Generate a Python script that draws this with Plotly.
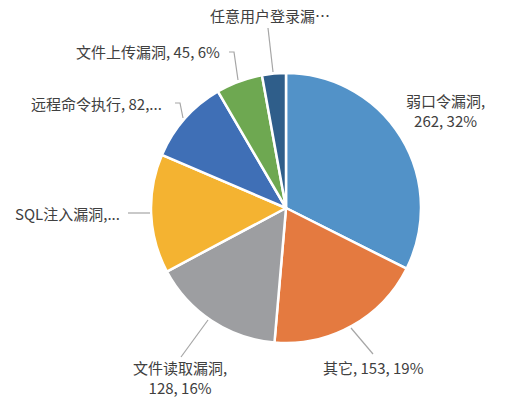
import plotly.graph_objects as go

categories = ["弱口令漏洞", "其它", "文件读取漏洞", "SQL注入漏洞", "远程命令执行", "文件上传漏洞", "任意用户登录漏洞"]
values = [262, 153, 128, 115, 82, 45, 23]
colors = ["#5292C8", "#E47A40", "#9D9EA1", "#F4B331", "#3F6FB6", "#6EA851", "#2F5E8A"]
label_texts = ["弱口令漏洞,<br>262, 32%", "其它, 153, 19%", "文件读取漏洞,<br>128, 16%",
               "SQL注入漏洞,...", "远程命令执行, 82,...", "文件上传漏洞, 45, 6%", "任意用户登录漏…"]

W, H = 512, 407
cx, cy, r = 286, 208, 135

def px(x):
    return x / W

def py(y):
    return 1 - y / H

fig = go.Figure(go.Pie(
    labels=categories,
    values=values,
    sort=False,
    direction="clockwise",
    rotation=0,
    marker=dict(colors=colors, line=dict(color="white", width=2.5)),
    textinfo="none",
    hoverinfo="label+value+percent",
    domain=dict(x=[px(cx - r), px(cx + r)], y=[py(cy + r), py(cy - r)]),
    showlegend=False,
))

# label placement (pixel positions) and leader lines
label_pos = [
    (445, 111),
    (373, 367),
    (180, 377),
    (67, 213),
    (96, 103),
    (148, 52),
    (270, 16),
]
leaders = [
    None,
    [(351, 328), (373, 354)],
    [(208, 320), (181, 357)],
    [(128, 213), (150, 213)],
    [(175, 103), (180, 103), (183, 118)],
    [(229, 52), (234, 52), (238, 80)],
    [(268, 28), (273, 72)],
]

annotations = []
for txt, (x, y) in zip(label_texts, label_pos):
    annotations.append(dict(
        x=px(x), y=py(y), xref="paper", yref="paper", text=txt, showarrow=False,
        xanchor="center", yanchor="middle", align="center",
        font=dict(family="Noto Sans CJK SC, Liberation Sans, sans-serif", size=15, color="#404040"),
    ))

shapes = []
for pts in leaders:
    if not pts:
        continue
    path = "M " + " L ".join(f"{px(a)},{py(b)}" for a, b in pts)
    shapes.append(dict(type="path", xref="paper", yref="paper", path=path,
                       line=dict(color="#A6A6A6", width=1.2)))

fig.update_layout(
    width=W, height=H,
    margin=dict(l=0, r=0, t=0, b=0),
    paper_bgcolor="white",
    plot_bgcolor="white",
    annotations=annotations,
    shapes=shapes,
)

fig.write_html("out.html", config={"displayModeBar": False},
               post_script="document.body.style.margin='0';document.body.style.overflow='hidden';")
